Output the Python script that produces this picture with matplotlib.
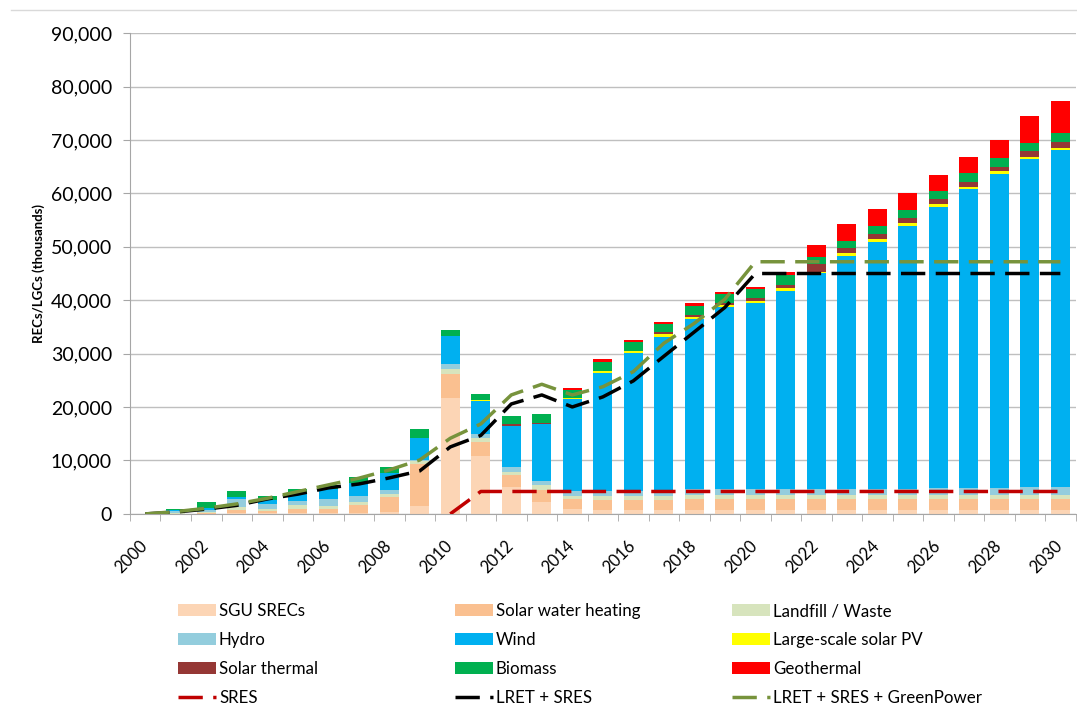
import numpy as np
import matplotlib
matplotlib.use("Agg")
import matplotlib.pyplot as plt
from matplotlib.lines import Line2D
from matplotlib.patches import Patch

plt.rcParams['font.family'] = ['Lato', 'DejaVu Sans']

years = list(range(2000, 2031))

# stacked components (thousands of certificates), bottom to top
sgu = [0, 0, 50, 100, 100, 150, 200, 250, 300, 1550, 21700, 10900, 5000, 2200, 930, 750, 750, 750,
       700, 700, 700, 700, 700, 700, 700, 700, 700, 700, 700, 700, 700]
swh = [0, 50, 200, 700, 500, 850, 800, 1400, 2900, 7800, 4500, 2500, 2200, 2200, 1870, 1870, 1870, 1870,
       2100, 2100, 2100, 2100, 2100, 2100, 2100, 2100, 2100, 2100, 2100, 2100, 2100]
landfill = [0, 100, 150, 500, 400, 600, 400, 600, 500, 600, 930, 800, 600, 1100, 600, 800, 800, 800,
            700, 700, 700, 700, 700, 700, 700, 700, 700, 700, 700, 700, 700]
hydro = [0, 400, 400, 1500, 900, 900, 1400, 1100, 700, 200, 930, 760, 930, 600, 930, 930, 930, 930,
         1100, 1100, 1100, 1100, 1200, 1200, 1250, 1250, 1300, 1350, 1400, 1450, 1500]
wind = [0, 200, 300, 400, 700, 1300, 1900, 2400, 3300, 4050, 5300, 6100, 7800, 10700, 17150, 22080,
        25820, 28800, 31830, 34080, 34820, 37190, 40340, 43640, 46210, 49140, 52590, 55910, 58670,
        61480, 63110]
solar_pv = [0, 0, 0, 0, 0, 0, 0, 0, 0, 0, 0, 250, 0, 0, 300, 370, 370, 500,
            370, 440, 440, 440, 200, 440, 500, 500, 560, 500, 620, 440, 440]
solar_thermal = [0, 0, 0, 0, 0, 0, 0, 0, 0, 0, 0, 0, 300, 300, 0, 0, 0, 440,
                 440, 300, 500, 620, 1450, 940, 940, 940, 940, 940, 810, 1120, 1120]
biomass = [0, 150, 1200, 1000, 700, 900, 800, 1100, 1000, 1700, 1060, 1120, 1500, 1560, 1370, 1680,
           1680, 1430, 1750, 1680, 1680, 1870, 1350, 1430, 1560, 1560, 1560, 1680, 1560, 1500, 1560]
geothermal = [0, 0, 0, 0, 0, 0, 0, 0, 0, 0, 0, 0, 0, 0, 370, 500, 370, 440,
              440, 370, 500, 620, 2250, 3060, 3060, 3120, 3000, 2870, 3430, 5050, 6050]

# target lines
sres = [np.nan] * 10 + [0] + [4200] * 20
lret_sres = [0, 350, 900, 1600, 2800, 3700, 4870, 5600, 6740, 8050, 12540, 14690, 20580, 22270,
             20020, 21900, 24900, 29500, 34060, 38640, 45000, 45000, 45000, 45000, 45000, 45000,
             45000, 45000, 45000, 45000, 45000]
lret_sres_gp = [0, 430, 1060, 1870, 2930, 4180, 5430, 6680, 8230, 10100, 14160, 16840, 22270, 24270,
                22270, 23800, 26630, 31940, 35680, 40180, 47200, 47200, 47200, 47200, 47200, 47200,
                47200, 47200, 47200, 47200, 47200]

stack = [
    ("SGU SRECs", sgu, "#fcd5b5"),
    ("Solar water heating", swh, "#fac090"),
    ("Landfill / Waste", landfill, "#d7e4bd"),
    ("Hydro", hydro, "#93cddd"),
    ("Wind", wind, "#00b0f0"),
    ("Large-scale solar PV", solar_pv, "#ffff00"),
    ("Solar thermal", solar_thermal, "#953735"),
    ("Biomass", biomass, "#00b050"),
    ("Geothermal", geothermal, "#ff0000"),
]

fig = plt.figure(figsize=(10.77, 7.04), dpi=100)
ax = fig.add_axes([0.1207, 0.270, 0.878, 0.683])

x = np.arange(len(years))
bottom = np.zeros(len(years))
for name, vals, col in stack:
    ax.bar(x, vals, 0.63, bottom=bottom, color=col, label=name, zorder=2)
    bottom += np.array(vals)

dash = (7, 3)
ax.plot(x, sres, color="#c00000", lw=2.5, dashes=dash, zorder=3)
ax.plot(x, lret_sres, color="black", lw=2.5, dashes=dash, zorder=3)
ax.plot(x, lret_sres_gp, color="#77933c", lw=2.5, dashes=dash, zorder=4)

ax.set_xlim(-0.5, len(years) - 0.5)
ax.set_ylim(0, 90000)
ax.set_yticks(range(0, 90001, 10000))
ax.set_yticklabels([f"{v:,}" for v in range(0, 90001, 10000)], fontsize=14)
ax.yaxis.grid(True, color="#bfbfbf", lw=1)
ax.set_axisbelow(True)

ax.set_xticks(x[::2])
ax.set_xticklabels([str(y) for y in years[::2]], rotation=45, ha="right", va="center",
                   rotation_mode="anchor", fontsize=12)
ax.set_xticks(np.arange(-0.5, len(years), 1), minor=True)
ax.tick_params(axis="x", which="major", length=0, pad=21)
ax.tick_params(axis="x", which="minor", length=5, color="#a6a6a6")
ax.tick_params(axis="y", length=5, color="#a6a6a6", pad=8)

for s in ["top", "right"]:
    ax.spines[s].set_visible(False)
for s in ["left", "bottom"]:
    ax.spines[s].set_color("#a6a6a6")

ax.set_ylabel("RECs/LGCs (thousands)", fontsize=9.5, fontweight="bold")
ax.yaxis.set_label_coords(-0.09, 0.5)

# legend in three columns placed separately
patches = {name: Patch(facecolor=col, edgecolor="none") for name, vals, col in stack}
lines = {
    "SRES": Line2D([], [], color="#c00000", lw=2.5, dashes=dash),
    "LRET + SRES": Line2D([], [], color="black", lw=2.5, dashes=dash),
    "LRET + SRES + GreenPower": Line2D([], [], color="#77933c", lw=2.5, dashes=dash),
}
cols = [
    ["SGU SRECs", "Hydro", "Solar thermal", "SRES"],
    ["Solar water heating", "Wind", "Biomass", "LRET + SRES"],
    ["Landfill / Waste", "Large-scale solar PV", "Geothermal", "LRET + SRES + GreenPower"],
]
for i, names in enumerate(cols):
    hs = [patches.get(n, lines.get(n)) for n in names]
    fig.legend(hs, names, loc="upper left", bbox_to_anchor=(0.1655 + i * 0.2572, 0.143),
               frameon=False, fontsize=12.2, handlelength=2.25, handletextpad=0.15,
               labelspacing=0.76, borderpad=0, borderaxespad=0,
               bbox_transform=fig.transFigure)

fig.add_artist(Line2D([0.01, 1.0], [1 - 10 / 704, 1 - 10 / 704], color="#d9d9d9", lw=1,
                      transform=fig.transFigure))

fig.savefig("out.png", dpi=100)
